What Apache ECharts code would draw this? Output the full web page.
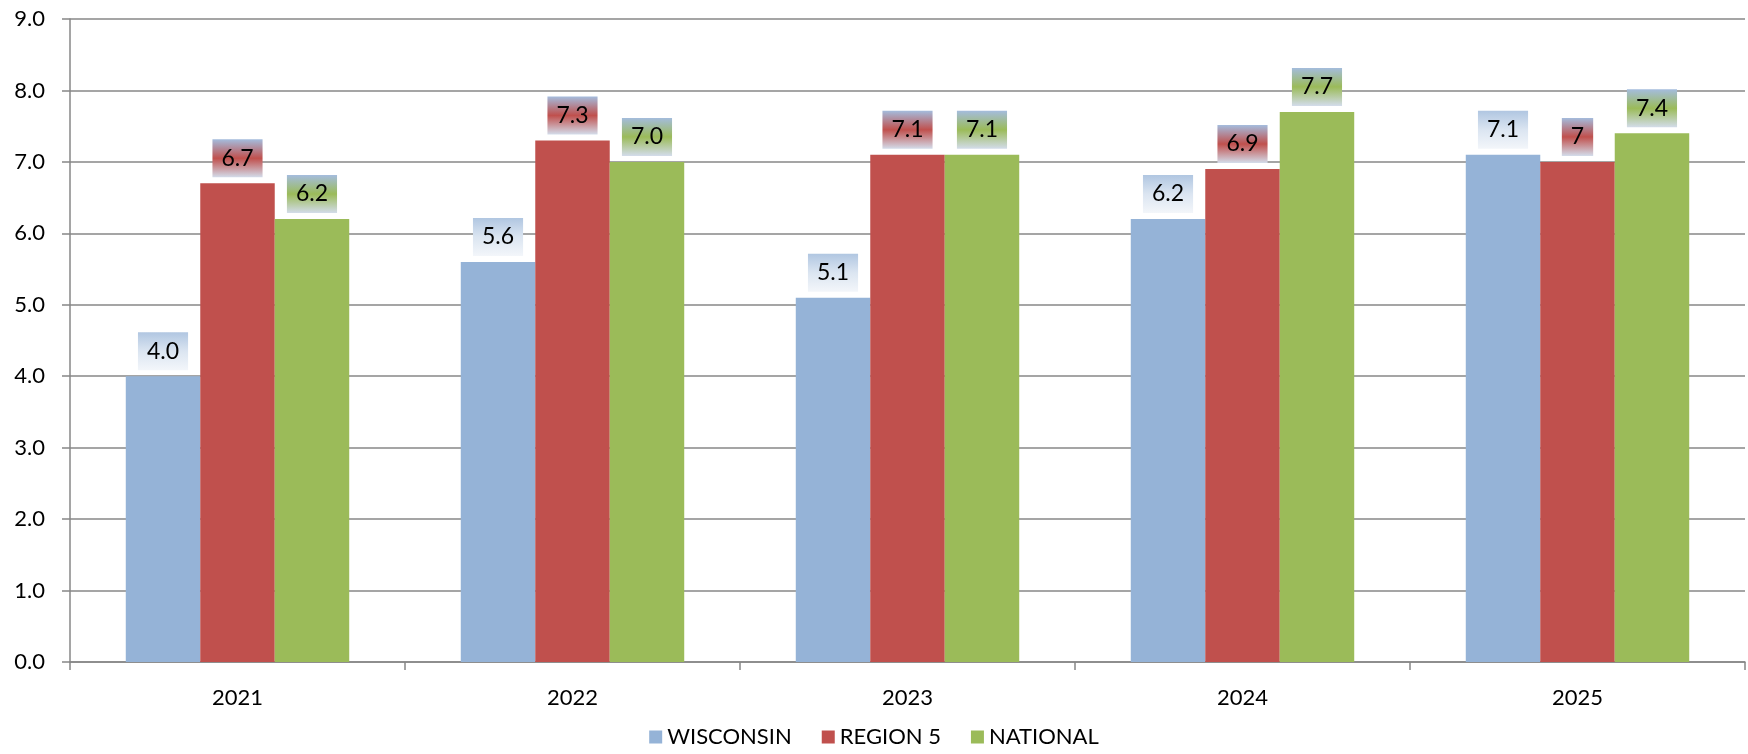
<!DOCTYPE html>
<html>
<head>
<meta charset="utf-8">
<script src="https://cdn.jsdelivr.net/npm/echarts@6/dist/echarts.min.js"></script>
<style>
  html, body { margin: 0; padding: 0; background: #fff; }
  #chart { width: 1748px; height: 754px; }
</style>
</head>
<body>
<div id="chart"></div>
<script>
// 数据
const years = ['2021', '2022', '2023', '2024', '2025'];
const wisconsin = [4.0, 5.6, 5.1, 6.2, 7.1];
const region5 = [6.7, 7.3, 7.1, 6.9, 7];
const national = [6.2, 7.0, 7.1, 7.7, 7.4];
const region5Labels = ['6.7', '7.3', '7.1', '6.9', '7'];

const chart = echarts.init(document.getElementById('chart'));
const FONT = 'Lato, "Open Sans", sans-serif';
const AXIS_GRAY = '#878787';

// 标签背景：上浅下浅、中间系列色的渐变
function labelBg(top, mid, bottom) {
  return new echarts.graphic.LinearGradient(0, 0, 0, 1, [
    { offset: 0, color: top },
    { offset: 0.5, color: mid },
    { offset: 1, color: bottom }
  ]);
}

function barLabel(bg, formatter) {
  return {
    show: true,
    position: 'top',
    distance: 6,
    color: '#000',
    fontFamily: FONT,
    fontSize: 23,
    lineHeight: 22,
    padding: [8, 9, 8, 9],
    backgroundColor: bg,
    formatter: formatter || (p => p.value.toFixed(1))
  };
}

const option = {
  animation: false,
  textStyle: { fontFamily: FONT },
  grid: { left: 70, right: 3, top: 19, bottom: 92 },
  legend: {
    bottom: 1,
    left: 'center',
    itemWidth: 13,
    itemHeight: 13,
    itemGap: 30,
    icon: 'rect',
    textStyle: { fontSize: 22, color: '#000', fontFamily: FONT },
    data: ['WISCONSIN', 'REGION 5', 'NATIONAL']
  },
  xAxis: {
    type: 'category',
    data: years,
    axisLine: { lineStyle: { color: AXIS_GRAY, width: 1.5 } },
    axisTick: { show: true, length: 8, lineStyle: { color: AXIS_GRAY, width: 1.5 } },
    axisLabel: { color: '#000', fontSize: 22, margin: 25 }
  },
  yAxis: {
    type: 'value',
    min: 0,
    max: 9,
    interval: 1,
    axisLine: { show: true, lineStyle: { color: AXIS_GRAY, width: 1.5 } },
    axisTick: { show: true, length: 8, lineStyle: { color: AXIS_GRAY, width: 1.5 } },
    axisLabel: { color: '#000', fontSize: 22, margin: 25, formatter: v => v.toFixed(1) },
    splitLine: { lineStyle: { color: AXIS_GRAY, width: 1.5 } }
  },
  series: [
    {
      name: 'WISCONSIN',
      type: 'bar',
      data: wisconsin,
      barGap: '0%',
      barCategoryGap: '33.3%',
      itemStyle: { color: '#95b3d7' },
      label: barLabel(labelBg('#b0c6e1', '#dbe5f1', '#f3f6fa'))
    },
    {
      name: 'REGION 5',
      type: 'bar',
      data: region5,
      itemStyle: { color: '#c0504d' },
      label: barLabel(labelBg('#a4bcdd', '#c0504d', '#d3dcea'), p => region5Labels[p.dataIndex])
    },
    {
      name: 'NATIONAL',
      type: 'bar',
      data: national,
      itemStyle: { color: '#9bbb59' },
      label: barLabel(labelBg('#a4bcdd', '#9bbb59', '#d3dcea'))
    }
  ]
};

chart.setOption(option);
window.addEventListener('resize', () => chart.resize());
</script>
</body>
</html>
